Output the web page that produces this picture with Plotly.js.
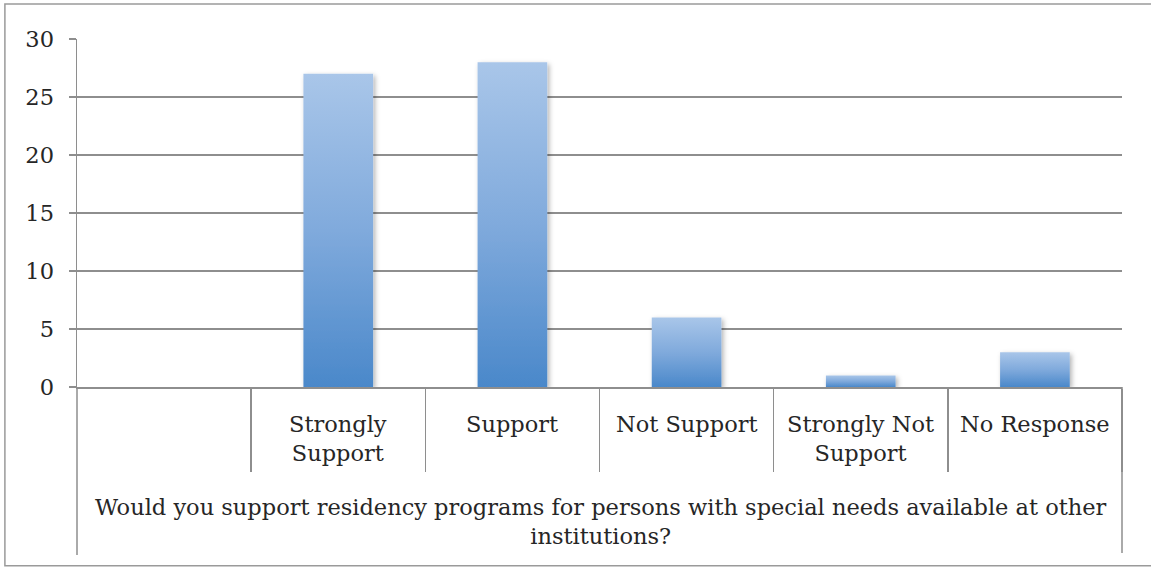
<!DOCTYPE html>
<html>
<head>
<meta charset="utf-8">
<script src="https://cdn.plot.ly/plotly-3.0.1.min.js"></script>
<style>
  html, body { margin: 0; padding: 0; background: #ffffff; }
  #chart { width: 1151px; height: 567px; }
</style>
</head>
<body>
<div id="chart"></div>
<script>
// Survey responses: support for residency programs at other institutions
const categories = ["Strongly Support", "Support", "Not Support", "Strongly Not Support", "No Response"];
const categoryLabels = ["Strongly<br>Support", "Support", "Not Support", "Strongly Not<br>Support", "No Response"];
const counts = [27, 28, 6, 1, 3];
const questionText = "Would you support residency programs for persons with special needs available at other<br>institutions?";

const GRID = "#8e8e8e";
const TEXT = "#262626";
const FONT = "DejaVu Serif, serif";
const FSIZE = 22.5;

const trace = {
  type: "bar",
  x: categories,
  y: counts,
  marker: { color: "#7aa6da", line: { width: 0 } },
  hoverinfo: "x+y"
};

const annotations = categories.map((c, i) => ({
  xref: "x", yref: "paper",
  x: c, y: -0.062,
  xanchor: "center", yanchor: "top",
  text: categoryLabels[i],
  showarrow: false,
  font: { family: FONT, size: FSIZE, color: TEXT }
}));
annotations.push({
  xref: "paper", yref: "paper",
  x: 0.501, y: -0.302,
  xanchor: "center", yanchor: "top",
  text: questionText,
  showarrow: false,
  font: { family: FONT, size: FSIZE, color: TEXT }
});

const layout = {
  width: 1151, height: 567,
  margin: { l: 77, r: 29, t: 39, b: 180 },
  paper_bgcolor: "#ffffff",
  plot_bgcolor: "#ffffff",
  showlegend: false,
  bargap: 0.6,
  xaxis: {
    type: "category",
    categoryarray: categories,
    range: [-1.5, 4.5],
    showticklabels: false,
    ticks: "outside",
    tickson: "boundaries",
    ticklen: 83,
    tickwidth: 1.5,
    tickcolor: GRID,
    showline: true,
    linecolor: GRID,
    linewidth: 1.5,
    showgrid: false,
    zeroline: false,
    fixedrange: true
  },
  yaxis: {
    range: [0, 30],
    dtick: 5,
    tick0: 0,
    showgrid: true,
    gridcolor: GRID,
    gridwidth: 1.5,
    zeroline: false,
    showline: true,
    linecolor: GRID,
    linewidth: 1.5,
    ticks: "outside",
    ticklen: 7,
    tickwidth: 1.5,
    tickcolor: GRID,
    ticklabelstandoff: 10,
    tickfont: { family: FONT, size: FSIZE, color: TEXT },
    fixedrange: true
  },
  annotations: annotations,
  shapes: [
    // chart area frame
    { type: "rect", xref: "paper", yref: "paper",
      x0: -0.069, x1: 1.06, y0: -0.514, y1: 1.1006,
      line: { color: "#9a9a9a", width: 1.5 }, fillcolor: "rgba(0,0,0,0)", layer: "below" },
    // outer group dividers below the axis
    { type: "line", xref: "paper", yref: "paper",
      x0: 0, x1: 0, y0: 0, y1: -0.483,
      line: { color: GRID, width: 1.5 } },
    { type: "line", xref: "paper", yref: "paper",
      x0: 1, x1: 1, y0: 0, y1: -0.477,
      line: { color: GRID, width: 1.5 } }
  ]
};

Plotly.newPlot("chart", [trace], layout, { staticPlot: true, displayModeBar: false }).then(gd => {
  // vertical gradient and soft shadow on the bars
  const svg = gd.querySelector("svg.main-svg");
  const ns = "http://www.w3.org/2000/svg";
  let defs = svg.querySelector("defs");
  if (!defs) { defs = document.createElementNS(ns, "defs"); svg.insertBefore(defs, svg.firstChild); }

  const grad = document.createElementNS(ns, "linearGradient");
  grad.setAttribute("id", "barFade");
  grad.setAttribute("x1", "0"); grad.setAttribute("y1", "0");
  grad.setAttribute("x2", "0"); grad.setAttribute("y2", "1");
  [["0%", "#a9c6e9"], ["50%", "#80aadc"], ["100%", "#4a88ca"]].forEach(([o, c]) => {
    const s = document.createElementNS(ns, "stop");
    s.setAttribute("offset", o); s.setAttribute("stop-color", c);
    grad.appendChild(s);
  });
  defs.appendChild(grad);

  const filt = document.createElementNS(ns, "filter");
  filt.setAttribute("id", "barShadow");
  filt.setAttribute("x", "-30%"); filt.setAttribute("y", "-30%");
  filt.setAttribute("width", "160%"); filt.setAttribute("height", "160%");
  const sh = document.createElementNS(ns, "feDropShadow");
  sh.setAttribute("dx", "2"); sh.setAttribute("dy", "2");
  sh.setAttribute("stdDeviation", "2.5");
  sh.setAttribute("flood-color", "#000000");
  sh.setAttribute("flood-opacity", "0.3");
  filt.appendChild(sh);
  defs.appendChild(filt);

  gd.querySelectorAll(".barlayer .point path").forEach(p => {
    p.style.fill = "url(#barFade)";
    p.style.filter = "url(#barShadow)";
  });
});
</script>
</body>
</html>
